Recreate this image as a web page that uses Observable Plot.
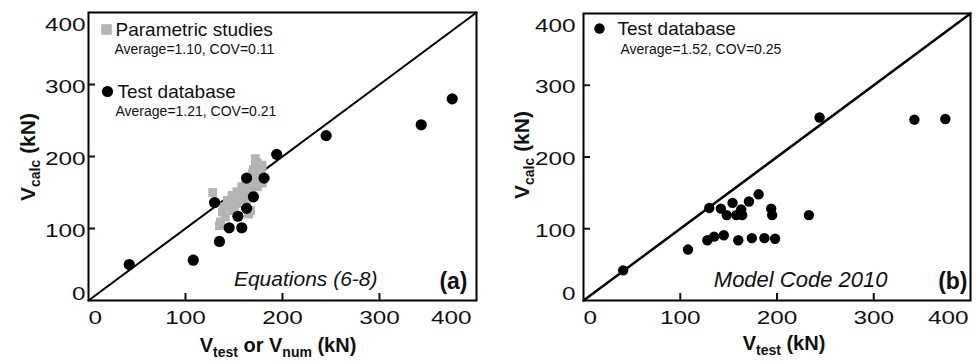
<!DOCTYPE html>
<html><head><meta charset="utf-8">
<script src="https://cdn.jsdelivr.net/npm/d3@7"></script>
<script src="https://cdn.jsdelivr.net/npm/@observablehq/plot@0.6"></script>
<style>
html,body{margin:0;padding:0;background:#fff;}
#wrap{display:flex;width:979px;height:363px;overflow:hidden;}
</style></head><body><div id="wrap"></div>
<script>
// ---- data ----
const xTicks = [0, 100, 200, 300, 400];
const yTicks = [0, 100, 200, 300, 400];
const diagonal = [0, 400];

// Panel (a): Equations (6-8)
const testA_x = [42, 108, 130, 135, 145, 154, 158, 163, 163, 170, 181, 194, 245, 343, 375];
const testA_y = [50, 56, 136, 82, 101, 117, 101, 128, 170, 144, 170, 203, 229, 244, 280];
const paramA_x = [128, 135, 136, 138, 140, 141, 143, 145, 147, 148, 148, 150, 153, 153, 155, 158, 160, 162, 165, 165, 167, 168, 169, 170, 172, 172, 174, 174, 176, 177, 179, 179, 165, 160, 157, 150, 150, 155, 160, 163, 168, 170, 173, 175, 178];
const paramA_y = [150, 104, 109, 123, 130, 116, 139, 135, 133, 146, 125, 142, 151, 135, 150, 158, 155, 160, 165, 120, 125, 170, 177, 182, 197, 188, 191, 158, 185, 180, 188, 163, 150, 140, 145, 128, 130, 140, 148, 140, 150, 160, 170, 175, 180];

// Panel (b): Model Code 2010
const testB_x = [41, 108, 128, 135, 145, 160, 174, 187, 198, 130, 142, 154, 148, 158, 163, 164, 171, 181, 194, 195, 233, 244, 342, 374];
const testB_y = [42, 71, 84, 89, 91, 84, 87, 87, 86, 129, 128, 136, 119, 119, 127, 119, 138, 148, 128, 119, 119, 255, 252, 253];

const legendA = ["Parametric studies", "Test database"];
const statsA = ["Average=1.10, COV=0.11", "Average=1.21, COV=0.21"];
const legendB = ["Test database"];
const statsB = ["Average=1.52, COV=0.25"];
const methodA = "Equations (6-8)", tagA = "(a)";
const methodB = "Model Code 2010", tagB = "(b)";
const yTitle = [["V", false], ["calc", true], [" (kN)", false]];
const xTitleA = [["V", false], ["test", true], [" or V", false], ["num", true], [" (kN)", false]];
const xTitleB = [["V", false], ["test", true], [" (kN)", false]];

const FONT = "'Liberation Sans', Arial, Helvetica, sans-serif";
const GRAY = "#b4b4b4";

// widen glyphs horizontally without moving the anchor (needs the svg in the DOM)
function stretch(svg, sel, k) {
  d3.select(svg).selectAll(sel).each(function () {
    const len = this.getComputedTextLength();
    if (len > 0) {
      this.setAttribute("textLength", (len * k).toFixed(1));
      this.setAttribute("lengthAdjust", "spacingAndGlyphs");
    }
  });
}

function addTitle(svg, parts, x, y, rotate, size, subSize, shift) {
  const t = d3.select(svg).append("text")
    .attr("transform", `translate(${x},${y})${rotate ? " rotate(-90)" : ""}`)
    .attr("text-anchor", "middle").attr("font-weight", "bold")
    .attr("font-size", size).attr("fill", "#111").attr("font-family", FONT);
  let sub = false;
  parts.forEach(([s, isSub]) => {
    const sp = t.append("tspan").text(s);
    if (isSub) sp.attr("font-size", subSize);
    if (isSub !== sub) sp.attr("dy", isSub ? shift : -shift);
    sub = isSub;
  });
}

function panel(cfg) {
  const plotW = cfg.width - cfg.ml - cfg.mr, plotH = cfg.height - cfg.mt - cfg.mb;
  const inner = xTicks.slice(1, -1);
  const tickFS = 19;
  const marks = [
    Plot.frame({stroke: "black", strokeWidth: 2}),
    Plot.ruleX(inner, {x: d => d, insetTop: plotH - 7, strokeWidth: 2}),
    Plot.ruleY(yTicks.slice(1, -1), {y: d => d, insetRight: plotW - 7, strokeWidth: 2}),
    Plot.axisX([xTicks[0]], {tickSize: 0, tickPadding: 10, textAnchor: "start", fontSize: tickFS, label: null}),
    Plot.axisX(inner, {tickSize: 0, tickPadding: 10, fontSize: tickFS, label: null}),
    Plot.axisX([xTicks[xTicks.length - 1]], {tickSize: 0, tickPadding: 10, textAnchor: "end", dx: cfg.lastDx, fontSize: tickFS, label: null}),
    Plot.axisY([yTicks[0]], {tickSize: 0, tickPadding: cfg.ypad, lineAnchor: "bottom", dy: -1, fontSize: tickFS, label: null}),
    Plot.axisY(yTicks.slice(1, -1), {tickSize: 0, tickPadding: cfg.ypad, fontSize: tickFS, dy: 2, label: null}),
    Plot.axisY([yTicks[yTicks.length - 1]], {tickSize: 0, tickPadding: cfg.ypad, lineAnchor: "top", dy: 5, fontSize: tickFS, label: null}),
    Plot.line(diagonal, {x: d => d, y: d => d, stroke: "black", strokeWidth: cfg.diagW}),
    ...cfg.marks
  ];
  const svg = Plot.plot({
    width: cfg.width, height: cfg.height,
    marginLeft: cfg.ml, marginRight: cfg.mr, marginTop: cfg.mt, marginBottom: cfg.mb,
    x: {domain: [0, 400]}, y: {domain: [0, 400]},
    style: {fontFamily: FONT, background: "white", color: "#111", overflow: "visible"},
    marks
  });
  addTitle(svg, cfg.xTitle, cfg.xtX, cfg.xtY, false, 20, 14, 5);
  addTitle(svg, yTitle, cfg.ytX, cfg.ytY, true, 21, 14, 5);
  return svg;
}

function finish(svg) {
  stretch(svg, 'g[aria-label="x-axis tick label"] text, g[aria-label="y-axis tick label"] text', 1.28);
  stretch(svg, 'g[aria-label="legend-big"] text', 1.15);
  stretch(svg, 'g[aria-label="legend-small"] text', 1.1);
  stretch(svg, 'g[aria-label="method-wide"] text', 1.1);
}

const idxA = testA_x.map((_, i) => i);
const idxP = paramA_x.map((_, i) => i);
const idxB = testB_x.map((_, i) => i);

const svgA = panel({
  width: 490, height: 363, ml: 88, mr: 14, mt: 12, mb: 63, ypad: 3, lastDx: -5, diagW: 2,
  xTitle: xTitleA, xtX: 278, xtY: 352, ytX: 35, ytY: 157,
  marks: [
    Plot.dot(idxP, {x: i => paramA_x[i], y: i => paramA_y[i], symbol: "square", r: 5, fill: GRAY}),
    Plot.dot(idxA, {x: i => testA_x[i], y: i => testA_y[i], r: 5.6, fill: "black"}),
    Plot.dot([legendA[0]], {frameAnchor: "top-left", dx: 18, dy: 17, symbol: "square", r: 6, fill: GRAY}),
    Plot.dot([legendA[1]], {frameAnchor: "top-left", dx: 19, dy: 79, r: 5.6, fill: "black"}),
    Plot.text([legendA[0]], {text: d => d, frameAnchor: "top-left", dx: 27, dy: 23, textAnchor: "start", lineAnchor: "bottom", fontSize: 19, ariaLabel: "legend-big"}),
    Plot.text([statsA[0]], {text: d => d, frameAnchor: "top-left", dx: 26, dy: 41, textAnchor: "start", lineAnchor: "bottom", fontSize: 14, ariaLabel: "legend-small"}),
    Plot.text([legendA[1]], {text: d => d, frameAnchor: "top-left", dx: 29, dy: 85, textAnchor: "start", lineAnchor: "bottom", fontSize: 19, ariaLabel: "legend-big"}),
    Plot.text([statsA[1]], {text: d => d, frameAnchor: "top-left", dx: 27, dy: 103, textAnchor: "start", lineAnchor: "bottom", fontSize: 14, ariaLabel: "legend-small"}),
    Plot.text([methodA], {text: d => d, frameAnchor: "bottom-right", dx: -99, dy: -15, textAnchor: "end", lineAnchor: "bottom", fontSize: 21, fontStyle: "italic"}),
    Plot.text([tagA], {text: d => d, frameAnchor: "bottom-right", dx: -9, dy: -12, textAnchor: "end", lineAnchor: "bottom", fontSize: 23, fontWeight: "bold"})
  ]
});

const svgB = panel({
  width: 489, height: 363, ml: 93, mr: 9, mt: 13, mb: 63, ypad: 8, lastDx: -2, diagW: 2.5,
  xTitle: xTitleB, xtX: 294, xtY: 350, ytX: 39, ytY: 155,
  marks: [
    Plot.dot(idxB, {x: i => testB_x[i], y: i => testB_y[i], r: 5.2, fill: "black"}),
    Plot.dot([legendB[0]], {frameAnchor: "top-left", dx: 16, dy: 15, r: 5.2, fill: "black"}),
    Plot.text([legendB[0]], {text: d => d, frameAnchor: "top-left", dx: 34, dy: 21, textAnchor: "start", lineAnchor: "bottom", fontSize: 19, ariaLabel: "legend-big"}),
    Plot.text([statsB[0]], {text: d => d, frameAnchor: "top-left", dx: 37, dy: 40, textAnchor: "start", lineAnchor: "bottom", fontSize: 14, ariaLabel: "legend-small"}),
    Plot.text([methodB], {text: d => d, frameAnchor: "bottom-right", dx: -83, dy: -14, textAnchor: "end", lineAnchor: "bottom", fontSize: 22, fontStyle: "italic", ariaLabel: "method-wide"}),
    Plot.text([tagB], {text: d => d, frameAnchor: "bottom-right", dx: -3, dy: -12, textAnchor: "end", lineAnchor: "bottom", fontSize: 23, fontWeight: "bold"})
  ]
});

document.getElementById("wrap").append(svgA, svgB);
finish(svgA);
finish(svgB);
</script></body></html>
